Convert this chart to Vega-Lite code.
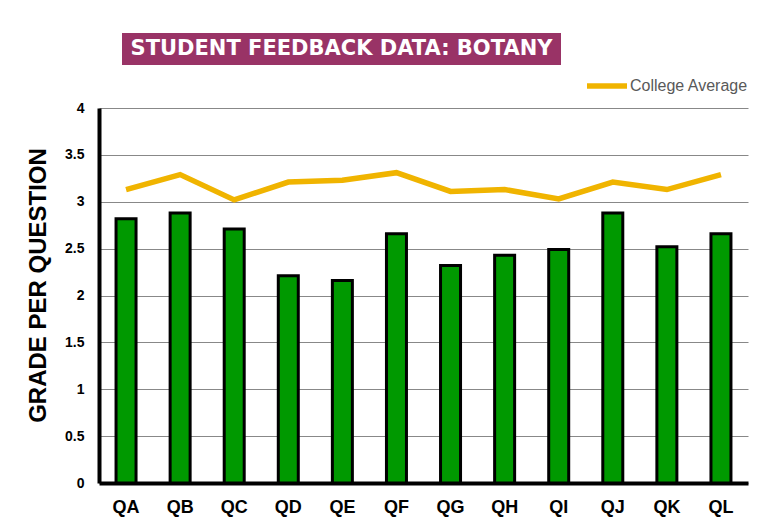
{
  "$schema": "https://vega.github.io/schema/vega-lite/v6.json",
  "background": "white",
  "padding": {"left": 26, "top": 33, "right": 5, "bottom": 5},
  "config": {"view": {"stroke": null}, "font": "Liberation Sans"},
  "bounds": "flush",
  "spacing": 75,
  "resolve": {"scale": {"color": "independent"}},
  "vconcat": [
    {
      "bounds": "flush",
      "spacing": 20,
      "hconcat": [
        {
          "width": 3,
          "height": 32,
          "data": {"values": [{"blank": ""}]},
          "mark": {"type": "text", "opacity": 0},
          "encoding": {"text": {"field": "blank"}}
        },
        {
          "width": 439,
          "height": 32,
          "view": {"fill": "#993366", "stroke": null},
          "data": {"values": [{"title": "STUDENT FEEDBACK DATA: BOTANY"}]},
          "mark": {"type": "text", "font": "DejaVu Sans", "fontWeight": "bold", "fontSize": 21, "color": "white", "align": "center", "baseline": "middle"},
          "encoding": {"text": {"field": "title"}}
        }
      ]
    },
    {
      "width": 649,
      "height": 375,
      "data": {
        "values": [
          {"question": "QA", "grade": 2.82, "college": 3.13},
          {"question": "QB", "grade": 2.88, "college": 3.29},
          {"question": "QC", "grade": 2.71, "college": 3.02},
          {"question": "QD", "grade": 2.21, "college": 3.21},
          {"question": "QE", "grade": 2.16, "college": 3.23},
          {"question": "QF", "grade": 2.66, "college": 3.31},
          {"question": "QG", "grade": 2.32, "college": 3.11},
          {"question": "QH", "grade": 2.43, "college": 3.13},
          {"question": "QI", "grade": 2.49, "college": 3.03},
          {"question": "QJ", "grade": 2.88, "college": 3.21},
          {"question": "QK", "grade": 2.52, "college": 3.13},
          {"question": "QL", "grade": 2.66, "college": 3.29}
        ]
      },
      "encoding": {
        "x": {
          "field": "question",
          "type": "nominal",
          "sort": null,
          "scale": {"paddingInner": 0, "paddingOuter": 0},
          "axis": {
            "title": null,
            "domainColor": "black",
            "domainWidth": 4,
            "ticks": false,
            "labelFontSize": 18,
            "labelFontWeight": "bold",
            "labelColor": "black",
            "labelPadding": 15,
            "labelAngle": 0
          }
        }
      },
      "layer": [
        {
          "mark": {"type": "bar", "fill": "#009900", "stroke": "black", "strokeWidth": 3, "size": 20},
          "encoding": {
            "y": {
              "field": "grade",
              "type": "quantitative",
              "scale": {"domain": [0, 4]},
              "axis": {
                "values": [0, 0.5, 1, 1.5, 2, 2.5, 3, 3.5, 4],
                "format": "~g",
                "grid": true,
                "gridColor": "#888888",
                "gridWidth": 1,
                "domainColor": "black",
                "domainWidth": 4,
                "ticks": false,
                "labelFontSize": 14,
                "labelFontWeight": "bold",
                "labelColor": "black",
                "labelPadding": 15,
                "title": "GRADE PER QUESTION",
                "titleFontSize": 24,
                "titleFontWeight": "bold",
                "titleColor": "black",
                "titlePadding": 14,
                "titleY": 177
              }
            }
          }
        },
        {
          "mark": {"type": "line", "strokeWidth": 5.5},
          "encoding": {
            "y": {"field": "college", "type": "quantitative"},
            "color": {
              "datum": "College Average",
              "scale": {"range": ["#F0B400"]},
              "legend": {
                "orient": "none",
                "legendX": 485,
                "legendY": -45,
                "title": null,
                "symbolType": "stroke",
                "symbolSize": 1600,
                "symbolStrokeWidth": 5.5,
                "labelFontSize": 16,
                "labelColor": "#595959",
                "labelOffset": 0
              }
            }
          }
        }
      ]
    }
  ]
}
